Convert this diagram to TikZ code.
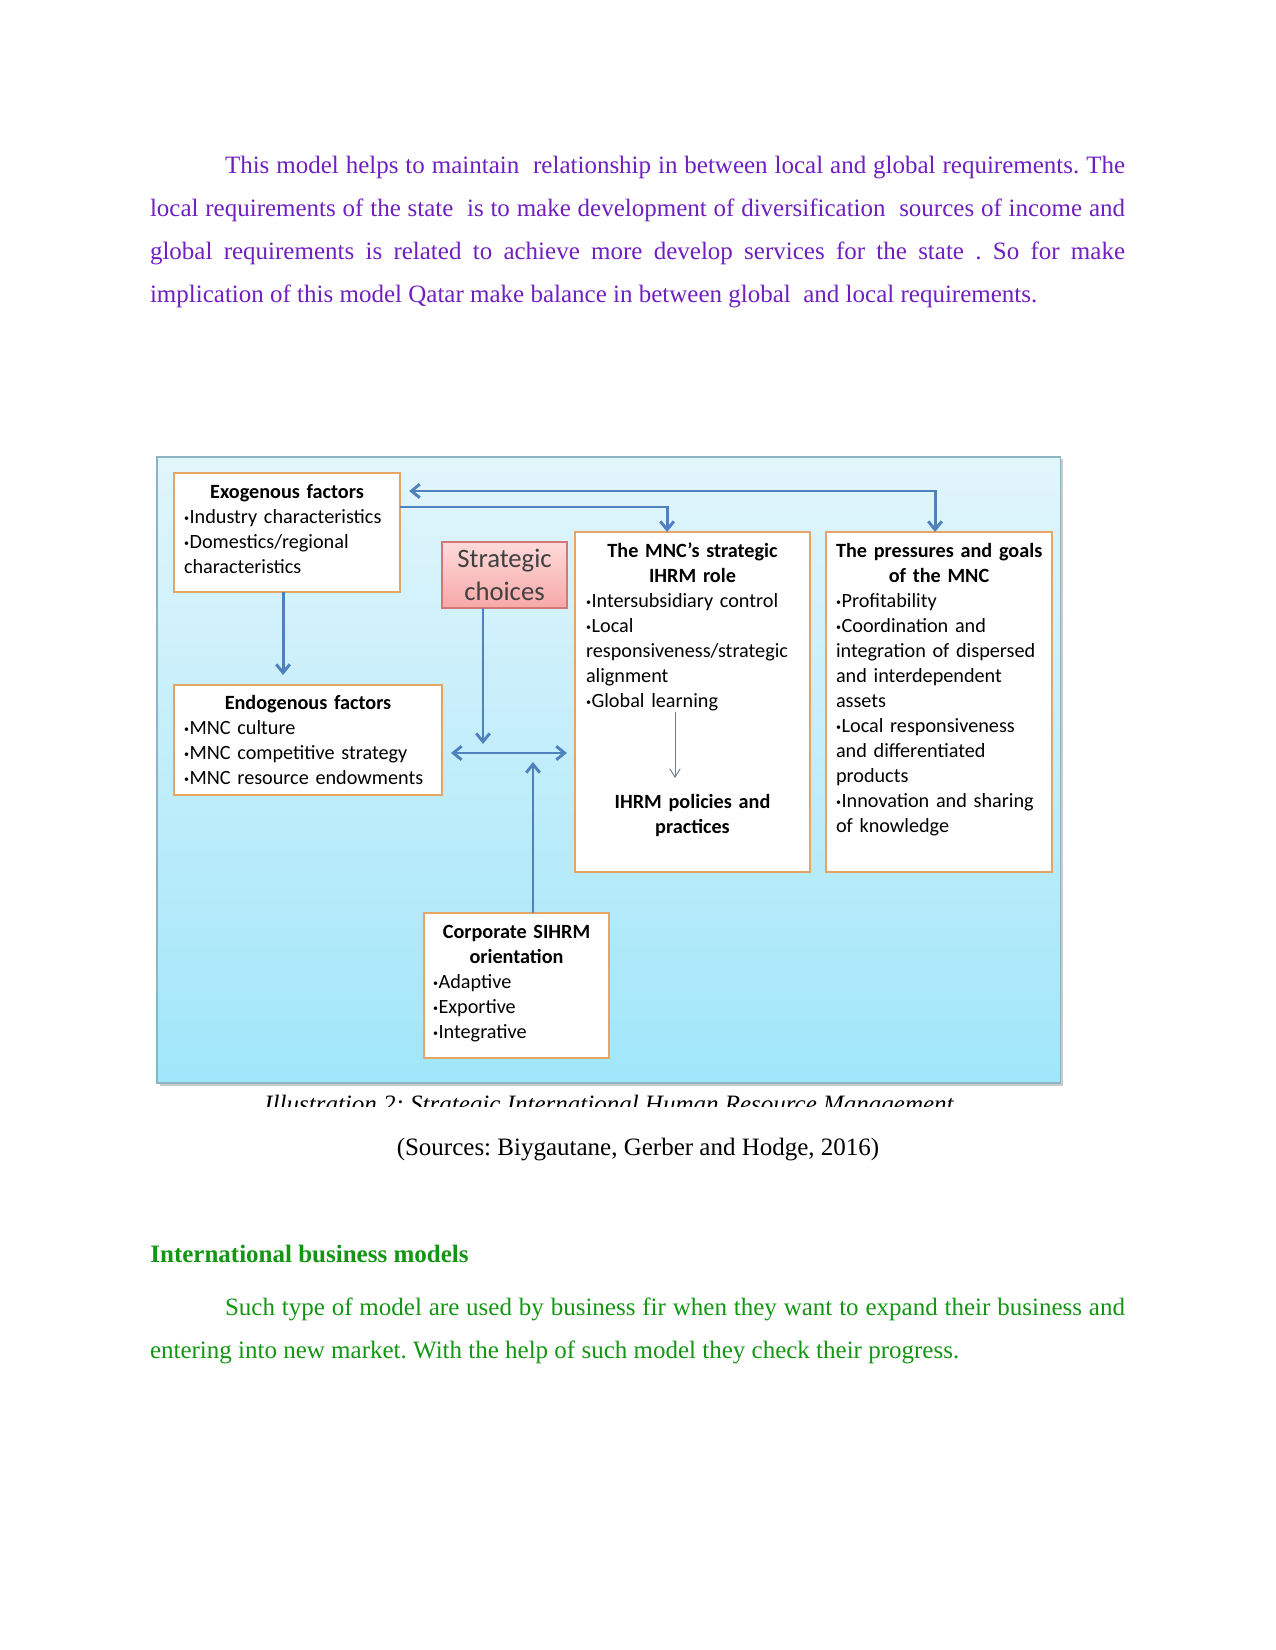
\documentclass[tikz,border=0pt]{standalone}
\usepackage{fontspec}
\setmainfont{Liberation Serif}
\newfontfamily\carlito{Carlito}
\usetikzlibrary{arrows.meta,shadows}
\definecolor{purpletxt}{RGB}{112,32,192}
\definecolor{greentxt}{RGB}{20,150,20}
\definecolor{boxorange}{RGB}{230,165,100}
\definecolor{arrowblue}{RGB}{79,129,189}
\definecolor{paneltop}{RGB}{226,245,251}
\definecolor{panelbot}{RGB}{160,230,250}
\definecolor{panelborder}{RGB}{140,180,195}
\definecolor{pinktop}{RGB}{255,218,218}
\definecolor{pinkbot}{RGB}{246,168,168}
\definecolor{pinkborder}{RGB}{210,120,120}
\definecolor{thingrey}{RGB}{110,125,140}
\definecolor{stratgrey}{RGB}{64,64,64}
\newcommand{\bxl}[1]{\mbox{#1}}
\newcommand{\bul}{\raisebox{0.8pt}{\fontsize{4.8}{5}\selectfont •}\kern0.3pt}
\hyphenpenalty=10000
\frenchspacing
\begin{document}
\begin{tikzpicture}[x=0.48pt,y=-0.48pt,
  obox/.style={draw=boxorange, line width=1.3pt, fill=white, inner sep=0pt, outer sep=0pt, anchor=north west},
  btext/.style={anchor=base, inner sep=0pt, outer sep=0pt, font=\carlito\fontsize{9.7}{12}\selectfont, text=black},
  barrow/.style={draw=arrowblue, line width=1.4pt},
  bh/.tip={Straight Barb[length=4pt,width=6.5pt]},
  th/.tip={Straight Barb[length=4pt,width=5pt]},
  bodytext/.style={anchor=base west, inner sep=0pt, outer sep=0pt, text width=468pt, align=justify, font=\fontsize{12}{20.6}\selectfont}
]
\useasboundingbox (0,0) rectangle (1275,1650);
\fill[white] (0,0) rectangle (1275,1650);

% text above
\node[bodytext, text=purpletxt] (para1) at (150,174) {\hyphenpenalty=10000\frenchspacing\hspace*{36pt}This model helps to maintain\ \ relationship in between local and global requirements. The\linebreak local requirements of the state\ \ is to make development of diversification\ \ sources of income and\linebreak global requirements is related to achieve more develop services for the state . So for make\linebreak implication of this model Qatar make balance in between global\ \ and local requirements.};

% panel
\node[draw=panelborder, line width=0.5pt, top color=paneltop, bottom color=panelbot,
  minimum width=433.44pt, minimum height=300.48pt, anchor=north west, inner sep=0pt, outer sep=0pt,
  drop shadow={shadow xshift=1.2pt, shadow yshift=-1.2pt, fill=black!40, opacity=.5}] (panel) at (157,457) {};

% boxes
\node[obox, minimum width=108.48pt, minimum height=57.12pt] (exo) at (174,473) {};
\node[obox, minimum width=128.64pt, minimum height=52.8pt] (endo) at (174,685) {};
\node[obox, minimum width=112.8pt, minimum height=163.2pt] (mnc) at (575,532) {};
\node[obox, minimum width=108.48pt, minimum height=163.2pt] (pres) at (826,532) {};
\node[obox, minimum width=88.8pt, minimum height=69.6pt] (corp) at (424,913) {};
\node[draw=pinkborder, line width=0.6pt, top color=pinktop, bottom color=pinkbot, anchor=north west,
  inner sep=0pt, outer sep=0pt, minimum width=60pt, minimum height=31.68pt] (strat) at (442,542) {};

% texts in boxes
\node[btext, text width=98.88pt] (exotxt) at (287,498) {{\centering\bfseries\bxl{Exogenous factors}\par}\raggedright\bxl{\bul Industry characteristics}\\\bxl{\bul Domestics/regional}\\\bxl{characteristics}};
\node[btext, text width=119.04pt] (endotxt) at (308,709) {{\centering\bfseries\bxl{Endogenous factors}\par}\raggedright\bxl{\bul MNC culture}\\\bxl{\bul MNC competitive strategy}\\\bxl{\bul MNC resource endowments}};
\node[btext, text width=102.24pt] (mnctxt) at (692.5,557) {{\centering\bfseries\bxl{The MNC’s strategic}\\\bxl{IHRM role}\par}\raggedright\bxl{\bul Intersubsidiary control}\\\bxl{\bul Local}\\\bxl{responsiveness/strategic}\\\bxl{alignment}\\\bxl{\bul Global learning}};
\node[btext, text width=102.24pt] (ipol) at (692.5,808) {{\centering\bfseries\bxl{IHRM policies and}\\\bxl{practices}\par}};
\node[btext, text width=98.88pt] (prestxt) at (939,557) {{\centering\bfseries\bxl{The pressures and goals}\\\bxl{of the MNC}\par}\raggedright\bxl{\bul Profitability}\\\bxl{\bul Coordination and}\\\bxl{integration of dispersed}\\\bxl{and interdependent}\\\bxl{assets}\\\bxl{\bul Local responsiveness}\\\bxl{and differentiated}\\\bxl{products}\\\bxl{\bul Innovation and sharing}\\\bxl{of knowledge}};
\node[btext, text width=80.16pt] (corptxt) at (516.5,938) {{\centering\bfseries\bxl{Corporate SIHRM}\\\bxl{orientation}\par}\raggedright\bxl{\bul Adaptive}\\\bxl{\bul Exportive}\\\bxl{\bul Integrative}};
\node[anchor=base, inner sep=0pt, text width=58pt, text=stratgrey, font=\carlito\fontsize{12.8}{15.8}\selectfont] (strattxt) at (504.5,567.5) {\centering Strategic\\choices\par};

% connectors
\coordinate (tly) at (0,491);
\coordinate (sly) at (0,507);
\coordinate (hy) at (0,753);
\coordinate (sd) at (483,744);
\coordinate (cu) at (533,762);
\coordinate (gl) at (675,712);
\coordinate (ip) at (675,778);
\draw[barrow, {bh}-{bh}] ([xshift=4.4pt]exo.east |- tly) -| ([xshift=-1.9pt]pres.north);
\draw[barrow, -{bh}] (exo.east |- sly) -| ([xshift=-12.2pt]mnc.north);
\draw[barrow, -{bh}] ([xshift=-1.9pt]exo.south) -- ([xshift=-1.9pt,yshift=4.8pt]exo.south |- endo.north);
\draw[barrow, -{bh}] (strat.south -| sd) -- (sd);
\draw[barrow, {bh}-{bh}] ([xshift=4.3pt]endo.east |- hy) -- ([xshift=-3.9pt]mnc.west |- hy);
\draw[barrow, -{bh}] (corp.north -| cu) -- (cu);
\draw[draw=thingrey, line width=0.45pt, -{th}] (gl) -- (ip);

% caption (clipped as in the reference)
\begin{scope}
\clip (157,1086) rectangle (1060,1106);
\node[anchor=base, inner sep=0pt, font=\itshape\fontsize{12}{14}\selectfont] (cap) at (609,1112) {Illustration 2: Strategic International Human Resource Management};
\end{scope}

\node[anchor=base, inner sep=0pt, font=\fontsize{12}{14}\selectfont] (src) at (638,1155.5) {(Sources: Biygautane, Gerber and Hodge, 2016)};

\node[anchor=base west, inner sep=0pt, text=greentxt, font=\bfseries\fontsize{12}{14}\selectfont] (head) at (150,1262.5) {International business models};
\node[bodytext, text=greentxt] (para2) at (150,1315.5) {\hyphenpenalty=10000\frenchspacing\hspace*{36pt}Such type of model are used by business fir when they want to expand their business and\linebreak entering into new market. With the help of such model they check their progress.};
\end{tikzpicture}
\end{document}
